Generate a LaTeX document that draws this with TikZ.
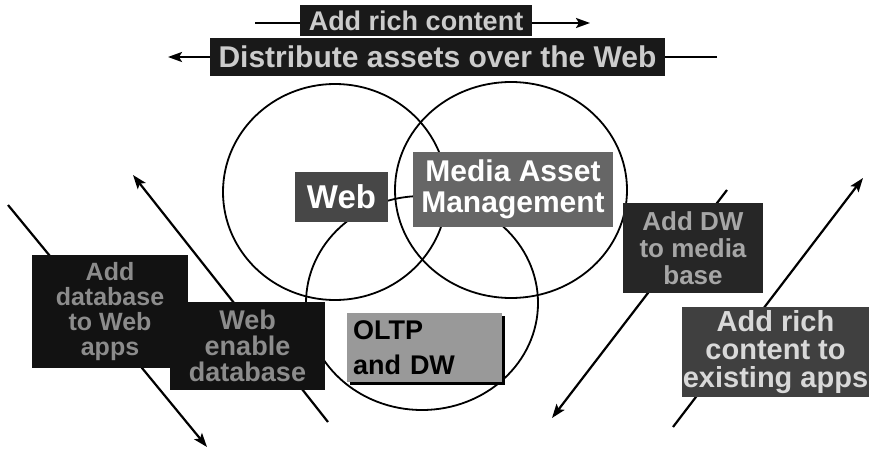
\documentclass[tikz,border=0pt]{standalone}
\usepackage{fontspec}
\setmainfont{Liberation Sans}
\usetikzlibrary{arrows.meta}

\begin{document}
\begin{tikzpicture}[x=1pt,y=-1pt,
  box_node/.style={rectangle,inner sep=0pt,align=center,font=\bfseries},
  black_box/.style={box_node,fill=black!93,text=black!45},
  top_box/.style={box_node,fill=black!90,text=black!20},
  ring/.style={line width=1.8pt},
  arrow_line/.style={line width=2.2pt,-{Stealth[length=14pt,width=10pt,inset=3pt]}}]

  \useasboundingbox (0,0) rectangle (869,452);

  % the three circles
  \draw[ring] (335,192) ellipse [x radius=112pt, y radius=108pt];
  \draw[ring] (511,190) ellipse [x radius=116pt, y radius=108pt];
  \draw[ring] (422,303) ellipse [x radius=116pt, y radius=107pt];

  % free ends of the arrows
  \coordinate (t1a) at (255,23);
  \coordinate (t1b) at (590,23);
  \coordinate (t2a) at (717,57);
  \coordinate (t2b) at (168,57);
  \coordinate (la) at (8,205);
  \coordinate (lb) at (207,447);
  \coordinate (ma) at (328,422);
  \coordinate (mb) at (133,175);
  \coordinate (ra) at (727,190);
  \coordinate (rb) at (552,418);
  \coordinate (sa) at (673,427);
  \coordinate (sb) at (863,178);

  \draw[arrow_line] (t1a) -- (t1b);
  \draw[arrow_line] (t2a) -- (t2b);
  \draw[arrow_line] (la) -- (lb);
  \draw[arrow_line] (ma) -- (mb);
  \draw[arrow_line] (ra) -- (rb);
  \draw[arrow_line] (sa) -- (sb);

  % boxes
  \node[top_box,minimum width=232pt,minimum height=31pt,font=\bfseries\fontsize{27}{29}\selectfont]
    (rich) at (416,20.5) {Add rich content};
  \node[top_box,minimum width=455pt,minimum height=38pt,font=\bfseries\fontsize{30}{32}\selectfont]
    (dist) at (437.5,57) {Distribute assets over the Web};

  \node[box_node,fill=black!72,text=white,minimum width=93pt,minimum height=50pt,font=\bfseries\fontsize{33}{35}\selectfont]
    (web) at (341.5,197) {Web};
  \node[box_node,fill=black!60,text=white,minimum width=200pt,minimum height=75pt,font=\bfseries\fontsize{30}{31}\selectfont]
    (media) at (513,189.5) {Media Asset\\Management};

  \fill[black] (350,316) rectangle (505,385);
  \node[box_node,fill=black!40,text=black,align=left,minimum width=155pt,minimum height=69pt,
    text width=143pt,font=\bfseries\fontsize{27}{35}\selectfont]
    (oltp) at (424.5,347.5) {OLTP\\and DW};

  \node[black_box,minimum width=156pt,minimum height=113pt,font=\bfseries\fontsize{25}{25}\selectfont]
    (addb) at (110,311.5) {Add\\database\\to Web\\apps};
  \node[black_box,minimum width=155pt,minimum height=88pt,font=\bfseries\fontsize{27}{26}\selectfont]
    (webdb) at (247.5,346) {Web\\enable\\database};

  \node[box_node,fill=black!85,text=black!35,minimum width=140pt,minimum height=90pt,font=\bfseries\fontsize{26}{27}\selectfont]
    (adddw) at (693,248) {Add DW\\to media\\base};
  \node[box_node,fill=black!75,text=black!15,minimum width=187pt,minimum height=90pt,font=\bfseries\fontsize{29}{28}\selectfont]
    (addrc) at (775.5,352) {Add rich\\content to\\existing apps};
\end{tikzpicture}
\end{document}
